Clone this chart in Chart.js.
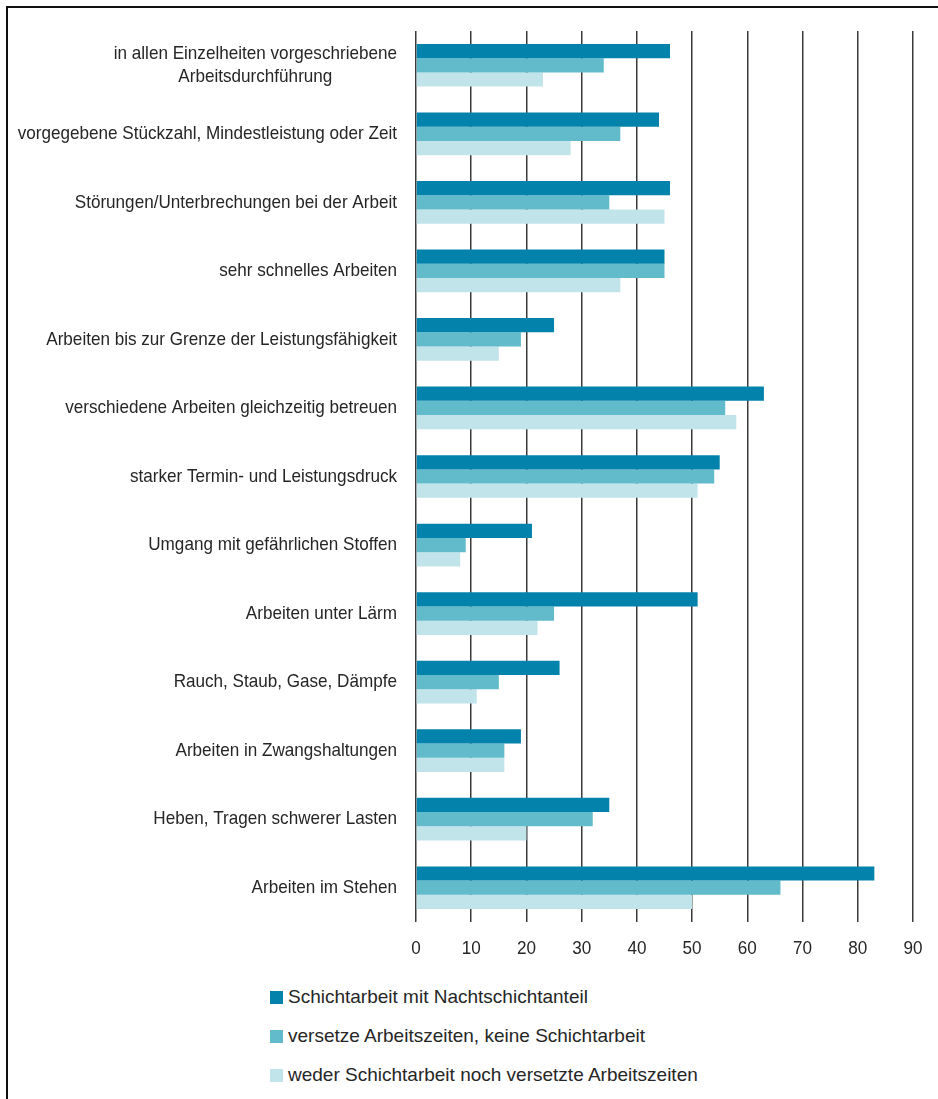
<!DOCTYPE html>
<html>
<head>
<meta charset="utf-8">
<script src="https://cdn.jsdelivr.net/npm/chart.js@4/dist/chart.umd.min.js"></script>
<style>
  body { margin: 0; background: #fff; width: 938px; height: 1099px; overflow: hidden; position: relative; }
  #frame { position: absolute; left: 6px; top: 6px; width: 960px; height: 1120px; border-left: 2px solid #111; border-top: 2px solid #111; }
  #wrap { position: absolute; left: 0; top: 0; width: 938px; height: 975px; }
  #legend { position: absolute; left: 270px; top: 986px; font-family: "Liberation Sans", Arial, sans-serif; font-size: 19px; color: #262626; }
  #legend div { height: 39px; display: flex; align-items: flex-start; }
  #legend span.box { display: inline-block; width: 13px; height: 13px; margin-right: 5px; margin-top: 5px; }
</style>
</head>
<body>
<div id="frame"></div>
<div id="wrap"><canvas id="chart"></canvas></div>
<div id="legend"></div>
<script>
// categories (top to bottom)
const categories = [
    ['in allen Einzelheiten vorgeschriebene', 'Arbeitsdurchführung'],
    'vorgegebene Stückzahl, Mindestleistung oder Zeit',
    'Störungen/Unterbrechungen bei der Arbeit',
    'sehr schnelles Arbeiten',
    'Arbeiten bis zur Grenze der Leistungsfähigkeit',
    'verschiedene Arbeiten gleichzeitig betreuen',
    'starker Termin- und Leistungsdruck',
    'Umgang mit gefährlichen Stoffen',
    'Arbeiten unter Lärm',
    'Rauch, Staub, Gase, Dämpfe',
    'Arbeiten in Zwangshaltungen',
    'Heben, Tragen schwerer Lasten',
    'Arbeiten im Stehen'
];

const seriesNames = [
    'Schichtarbeit mit Nachtschichtanteil',
    'versetze Arbeitszeiten, keine Schichtarbeit',
    'weder Schichtarbeit noch versetzte Arbeitszeiten'
];

const nachtschicht = [46, 44, 46, 45, 25, 63, 55, 21, 51, 26, 19, 35, 83];
const versetzt     = [34, 37, 35, 45, 19, 56, 54, 9, 25, 15, 16, 32, 66];
const weder        = [23, 28, 45, 37, 15, 58, 51, 8, 22, 11, 16, 20, 50];

const xTicks = [0, 10, 20, 30, 40, 50, 60, 70, 80, 90];

const colors = ['#0383ac', '#61bbcb', '#c0e4ea'];

// the original uses a narrow sans; squeeze Liberation Sans horizontally
const squeeze = 0.9;
const labelFont = '19px "Liberation Sans", Arial, sans-serif';

function narrowText(ctx, text, x, y) {
    ctx.save();
    ctx.translate(x, y);
    ctx.scale(squeeze, 1);
    ctx.fillText(text, 0, 0);
    ctx.restore();
}

// draws category labels (block right aligned, lines centred) and x tick labels
const axisLabels = {
    id: 'axisLabels',
    afterDraw(chart) {
        const ctx = chart.ctx;
        const y = chart.scales.y;
        const x = chart.scales.x;
        ctx.save();
        ctx.font = labelFont;
        ctx.fillStyle = '#262626';
        ctx.textAlign = 'center';
        ctx.textBaseline = 'middle';
        categories.forEach((c, i) => {
            const lines = Array.isArray(c) ? c : [c];
            const w = Math.max(...lines.map(l => ctx.measureText(l).width)) * squeeze;
            const cx = 397 - w / 2;
            const cy = y.getPixelForValue(i);
            const lh = 23;
            lines.forEach((l, j) => {
                narrowText(ctx, l, cx, cy + (j - (lines.length - 1) / 2) * lh);
            });
        });
        xTicks.forEach(v => {
            narrowText(ctx, String(v), x.getPixelForValue(v), chart.chartArea.bottom + 27);
        });
        ctx.restore();
    }
};

const ctx = document.getElementById('chart').getContext('2d');
const myChart = new Chart(ctx, {
    type: 'bar',
    data: {
        labels: categories.map(c => Array.isArray(c) ? c.join(' ') : c),
        datasets: [
            { label: seriesNames[0], data: nachtschicht, backgroundColor: colors[0] },
            { label: seriesNames[1], data: versetzt, backgroundColor: colors[1] },
            { label: seriesNames[2], data: weder, backgroundColor: colors[2] }
        ]
    },
    options: {
        indexAxis: 'y',
        responsive: true,
        maintainAspectRatio: false,
        animation: false,
        layout: { padding: { top: 31, right: 25, left: 0, bottom: 0 } },
        datasets: { bar: { categoryPercentage: 0.623, barPercentage: 1.0 } },
        plugins: {
            legend: { display: false },
            tooltip: { enabled: false }
        },
        scales: {
            x: {
                min: 0,
                max: 90,
                afterBuildTicks: s => { s.ticks = xTicks.map(v => ({ value: v })); },
                afterFit: s => { s.height = 53; },
                grid: { color: '#3a3a3a', lineWidth: 1.5, drawTicks: false },
                border: { display: false },
                ticks: { display: false }
            },
            y: {
                grid: { display: false },
                border: { display: false },
                ticks: { display: false },
                afterFit: s => { s.width = 416; }
            }
        }
    },
    plugins: [axisLabels]
});

// legend below the chart, one item per row
const legend = document.getElementById('legend');
seriesNames.forEach((name, i) => {
    const row = document.createElement('div');
    row.innerHTML = '<span class="box" style="background:' + colors[i] + '"></span><span>' + name + '</span>';
    legend.appendChild(row);
});
</script>
</body>
</html>
